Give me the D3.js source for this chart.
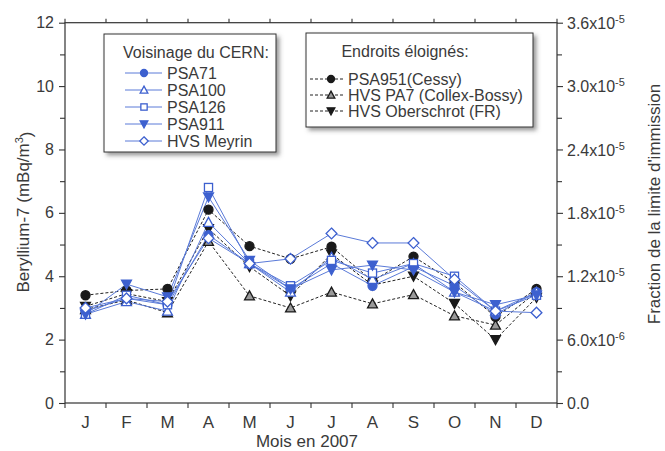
<!DOCTYPE html>
<html><head><meta charset="utf-8">
<script src="https://cdn.jsdelivr.net/npm/d3@7"></script>
<style>
html,body{margin:0;padding:0;background:#fff;}
svg text{font-family:"Liberation Sans",Arial,sans-serif;fill:#3a3a3a;}
</style></head>
<body><svg id="c" width="665" height="451"></svg>
<script>
const months = ["J","F","M","A","M","J","J","A","S","O","N","D"];
const psa71     = [2.9, 3.3, 3.1, 5.3, 4.4, 3.6, 4.4, 3.7, 4.3, 3.7, 2.8, 3.5];
const psa100    = [2.8, 3.2, 2.9, 5.7, 4.4, 3.5, 4.6, 3.9, 4.4, 3.5, 2.9, 3.5];
const psa126    = [2.8, 3.4, 3.1, 6.8, 4.4, 3.7, 4.5, 4.1, 4.4, 4.0, 2.9, 3.4];
const psa911    = [2.8, 3.75, 3.35, 6.5, 4.5, 3.6, 4.2, 4.35, 4.2, 3.5, 3.1, 3.4];
const hvsMeyrin = [3.0, 3.3, 3.2, 5.2, 4.4, 4.55, 5.35, 5.05, 5.05, 3.9, 2.9, 2.85];
const psa951    = [3.4, 3.55, 3.6, 6.1, 4.95, 4.55, 4.93, 3.85, 4.62, 3.8, 2.72, 3.6];
const hvsPA7    = [2.95, 3.25, 2.85, 5.1, 3.38, 3.0, 3.5, 3.13, 3.42, 2.75, 2.46, 3.5];
const hvsOber   = [3.05, 3.45, 3.2, 5.5, 4.3, 3.38, 4.7, 3.72, 4.0, 3.14, 2.0, 3.33];
const leftTicks = [0, 2, 4, 6, 8, 10, 12];
const rightTicks = [0, 6e-6, 1.2e-5, 1.8e-5, 2.4e-5, 3.0e-5, 3.6e-5];
const rightMantissa = ["0.0", "6.0x10", "1.2x10", "1.8x10", "2.4x10", "3.0x10", "3.6x10"];
const rightExponent = ["", "-6", "-5", "-5", "-5", "-5", "-5"];
const groupNear = "Voisinage du CERN:";
const groupFar = "Endroits éloignés:";

const BLUE = "#3d60cf";
const series = [
  {name:"PSA71", data:psa71, color:BLUE, sym:"circle", fill:BLUE, dash:null, group:0},
  {name:"PSA100", data:psa100, color:BLUE, sym:"triangle", fill:"#fff", dash:null, group:0},
  {name:"PSA126", data:psa126, color:BLUE, sym:"square", fill:"#fff", dash:null, group:0},
  {name:"PSA911", data:psa911, color:BLUE, sym:"tdown", fill:BLUE, dash:null, group:0},
  {name:"HVS Meyrin", data:hvsMeyrin, color:BLUE, sym:"diamond", fill:"#fff", dash:null, group:0},
  {name:"PSA951(Cessy)", data:psa951, color:"#1a1a1a", sym:"circle", fill:"#1a1a1a", dash:"3,2", group:1},
  {name:"HVS PA7 (Collex-Bossy)", data:hvsPA7, color:"#1a1a1a", sym:"triangle", fill:"#9a9a9a", dash:"3,2", group:1},
  {name:"HVS Oberschrot (FR)", data:hvsOber, color:"#1a1a1a", sym:"tdown", fill:"#1a1a1a", dash:"3,2", group:1}
];

const svg = d3.select("#c");
const L = 65, R = 557, T = 22.7, B = 403;
const x = d3.scaleBand().domain(d3.range(12)).range([L, R]);
const y = d3.scaleLinear().domain([0, 12]).range([B, T]);
const yR = d3.scaleLinear().domain([0, 3.6e-5]).range([B, T]);
const cx = i => x(i) + x.bandwidth()/2;

const defs = svg.append("defs");
const f = defs.append("filter").attr("id","sh").attr("x","-10%").attr("y","-10%").attr("width","130%").attr("height","130%");
f.append("feDropShadow").attr("dx",3).attr("dy",3).attr("stdDeviation",2).attr("flood-color","#555").attr("flood-opacity",0.6);

const AX = "#333";
svg.append("rect").attr("x",L).attr("y",T).attr("width",R-L).attr("height",B-T).attr("fill","none").attr("stroke",AX).attr("stroke-width",1.2);

function styleAxis(g){ g.select(".domain").remove(); g.selectAll("line").attr("stroke",AX).attr("stroke-width",1.1); }

const gl = svg.append("g").attr("transform",`translate(${L},0)`)
  .call(d3.axisLeft(y).tickValues(leftTicks).tickSize(6).tickPadding(5).tickFormat(d3.format("d")));
styleAxis(gl);
gl.selectAll("text").style("font-size","16px").attr("fill","#3a3a3a");
const glm = svg.append("g").attr("transform",`translate(${L},0)`)
  .call(d3.axisLeft(y).tickValues(d3.range(1,12,2)).tickSize(5).tickFormat(""));
styleAxis(glm);

const gr = svg.append("g").attr("transform",`translate(${R},0)`)
  .call(d3.axisRight(yR).tickValues(rightTicks).tickSize(6).tickFormat(""));
styleAxis(gr);
gr.selectAll(".tick").append("text").attr("x",10).attr("dy","0.35em").style("font-size","16px")
  .each(function(d,i){
    const t = d3.select(this);
    t.append("tspan").text(rightMantissa[i]);
    if (rightExponent[i]) t.append("tspan").attr("dy","-0.55em").style("font-size","11px").text(rightExponent[i]);
  });
const grm = svg.append("g").attr("transform",`translate(${R},0)`)
  .call(d3.axisRight(y).tickValues(d3.range(1,12,2)).tickSize(5).tickFormat(""));
styleAxis(grm);

const bounds = d3.range(13).map(i => L + i*x.step());
svg.append("g").selectAll("line").data(bounds).join("line")
  .attr("x1",d=>d).attr("x2",d=>d).attr("y1",B).attr("y2",B+5).attr("stroke",AX).attr("stroke-width",1.1);
svg.append("g").selectAll("line").data(bounds).join("line")
  .attr("x1",d=>d).attr("x2",d=>d).attr("y1",T).attr("y2",T-4).attr("stroke",AX).attr("stroke-width",1.1);
svg.append("g").selectAll("text").data(months).join("text")
  .attr("x",(d,i)=>cx(i)).attr("y",428).attr("text-anchor","middle").style("font-size","17px").text(d=>d);

svg.append("text").attr("x",307).attr("y",447).attr("text-anchor","middle").style("font-size","17px").text("Mois en 2007");
const yt = svg.append("text").attr("transform","translate(29,212) rotate(-90)").attr("text-anchor","middle").style("font-size","17px");
yt.append("tspan").text("Beryllium-7 (mBq/m");
yt.append("tspan").attr("dy","-0.55em").style("font-size","11px").text("3");
yt.append("tspan").attr("dy","0.55em").text(")");
svg.append("text").attr("transform","translate(660,204) rotate(-90)").attr("text-anchor","middle").style("font-size","17px").text("Fraction de la limite d'immission");

function sym(g, type, color, fill, s){
  let p;
  if (type==="circle") p = g.append("circle").attr("r",s*0.5);
  else if (type==="square") p = g.append("rect").attr("x",-s*0.45).attr("y",-s*0.45).attr("width",s*0.9).attr("height",s*0.9);
  else if (type==="triangle") p = g.append("path").attr("d",`M0,${-s*0.55}L${s*0.55},${s*0.45}L${-s*0.55},${s*0.45}Z`);
  else if (type==="tdown") p = g.append("path").attr("d",`M0,${s*0.55}L${s*0.55},${-s*0.45}L${-s*0.55},${-s*0.45}Z`);
  else if (type==="diamond") p = g.append("path").attr("d",`M0,${-s*0.6}L${s*0.6},0L0,${s*0.6}L${-s*0.6},0Z`);
  p.attr("fill",fill).attr("stroke",color).attr("stroke-width",1.3);
}

const line = d3.line().x((d,i)=>cx(i)).y(d=>y(d));
const plot = svg.append("g");
const order = [6,7,5,0,1,2,3,4];
order.forEach(k => {
  const s = series[k];
  plot.append("path").datum(s.data).attr("d",line).attr("fill","none")
    .attr("stroke", s.group ? "#222" : "#5a7ad8").attr("stroke-width",1).attr("stroke-dasharray",s.dash);
});
order.forEach(k => {
  const s = series[k];
  s.data.forEach((v,i) => {
    const g = plot.append("g").attr("transform",`translate(${cx(i)},${y(v)})`);
    sym(g, s.sym, s.color, s.fill, 9);
  });
});

function legend(x0, y0, w, h, title, items, titleX, rowY0, rowDy, lx1, lx2, mx, tx){
  const g = svg.append("g");
  g.append("rect").attr("x",x0).attr("y",y0).attr("width",w).attr("height",h).attr("fill","#fff").attr("stroke","#333").attr("stroke-width",1).attr("filter","url(#sh)");
  g.append("text").attr("x",titleX).attr("y",y0+24).attr("text-anchor","middle").style("font-size","16px").text(title);
  items.forEach((s,i) => {
    const yy = rowY0 + i*rowDy;
    g.append("line").attr("x1",lx1).attr("x2",lx2).attr("y1",yy).attr("y2",yy)
      .attr("stroke", s.group ? "#222" : "#5a7ad8").attr("stroke-width",1).attr("stroke-dasharray",s.dash);
    sym(g.append("g").attr("transform",`translate(${mx},${yy})`), s.sym, s.color, s.fill, 7);
    g.append("text").attr("x",tx).attr("y",yy+5.5).style("font-size","16px").text(s.name);
  });
}
legend(104, 34, 172, 118, groupNear, series.filter(s=>s.group===0), 196, 73, 17, 125, 162, 144, 167);
legend(306, 33, 227, 94, groupFar, series.filter(s=>s.group===1), 405, 79, 16, 310, 343, 331, 348);
</script></body></html>
